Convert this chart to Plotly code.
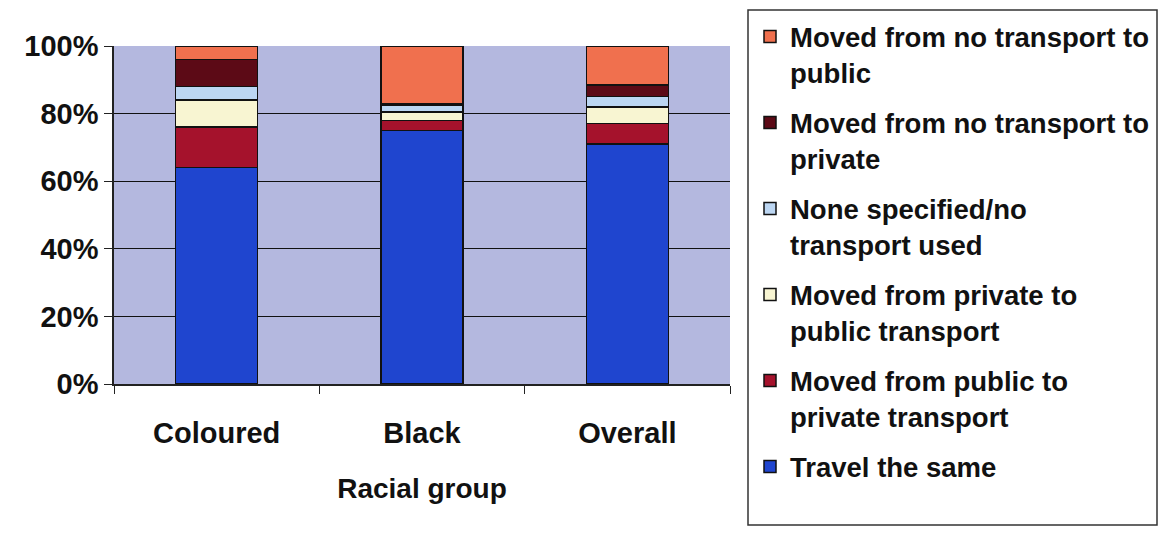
import plotly.graph_objects as go

categories = ["Coloured", "Black", "Overall"]

travel_same = [64, 75, 71]
public_to_private = [12, 3, 6]
private_to_public = [8, 2.5, 5]
none_specified = [4, 2, 3]
none_to_private = [8, 0.5, 3.5]
none_to_public = [4, 17, 11.5]

series = [
    ("Travel the same", travel_same, "#1f45cf"),
    ("Moved from public to<br>private transport", public_to_private, "#a5122c"),
    ("Moved from private to<br>public transport", private_to_public, "#f8f5d2"),
    ("None specified/no<br>transport used", none_specified, "#bcd6f2"),
    ("Moved from no transport to<br>private", none_to_private, "#5c0a16"),
    ("Moved from no transport to<br>public", none_to_public, "#f0704e"),
]

FONT = "Liberation Sans, Arial, sans-serif"
OFF = 8  # page body margin

W, H = 1167 - 2 * OFF, 536 - 2 * OFF
fig = go.Figure()
n = len(series)
for i, (name, vals, col) in enumerate(series):
    fig.add_trace(go.Bar(
        x=categories, y=vals, name=name,
        marker=dict(color=col, line=dict(color="#111111", width=1.5)),
        legendgroup=f"g{i}", legendrank=n - i,
    ))

L, T = 114 - OFF, 46 - OFF
Rpx, Bpx = 730 - OFF, 384 - OFF
R, B = W - Rpx, H - Bpx
pw, ph = Rpx - L, Bpx - T

def px2paper_x(px):
    return (px - OFF - L) / pw

def px2paper_y(py):
    return (Bpx - (py - OFF)) / ph

fig.update_layout(
    width=W, height=H,
    margin=dict(l=L, r=R, t=T, b=B),
    barmode="stack", bargap=0.6,
    paper_bgcolor="white", plot_bgcolor="#b4b8df",
    font=dict(family=FONT, size=27, color="#111111"),
    showlegend=True,
    legend=dict(
        x=(750 - OFF) / W, y=1 - (12 - OFF) / H, xref="container", yref="container",
        xanchor="left", yanchor="top", valign="top",
        traceorder="grouped", tracegroupgap=11.5, maxheight=1,
        font=dict(family=FONT, size=27.5, color="#111111", weight="bold"),
        bgcolor="rgba(0,0,0,0)", borderwidth=0,
    ),
    xaxis=dict(
        showline=True, linecolor="#222222", linewidth=1.5,
        ticks="outside", tickson="boundaries", ticklen=8, tickcolor="#222222",
        tickfont=dict(family=FONT, size=29, weight="bold"),
        ticklabelstandoff=22,
        title=dict(text="<b>Racial group</b>", font=dict(family=FONT, size=28), standoff=31),
    ),
    yaxis=dict(
        range=[0, 100], tickvals=[0, 20, 40, 60, 80, 100],
        ticktext=["0%", "20%", "40%", "60%", "80%", "100%"],
        showgrid=True, gridcolor="#111111", gridwidth=1.2,
        showline=True, linecolor="#222222", linewidth=1.5,
        ticks="outside", ticklen=8, tickcolor="#222222",
        tickfont=dict(family=FONT, size=29, weight="bold"),
        zeroline=False,
    ),
    shapes=[dict(
        type="rect", xref="paper", yref="paper",
        x0=px2paper_x(748), x1=px2paper_x(1157),
        y0=px2paper_y(525), y1=px2paper_y(10),
        line=dict(color="#333333", width=1.5), fillcolor="rgba(0,0,0,0)",
        layer="above",
    )],
)

fig.write_html("out.html")
